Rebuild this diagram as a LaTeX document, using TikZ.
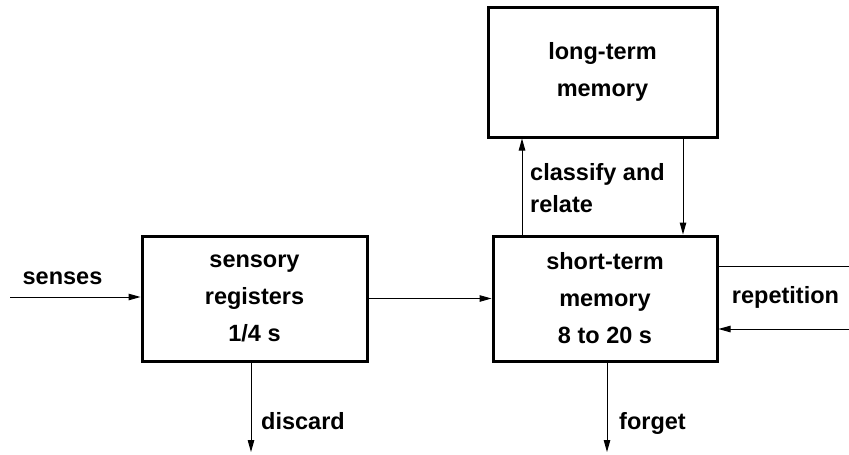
\documentclass[tikz,border=0pt]{standalone}
\usepackage{fontspec}
\setmainfont{Liberation Sans}
\usetikzlibrary{arrows.meta}
\begin{document}
\begin{tikzpicture}[x=1pt,y=-1pt,
  box/.style={draw, line width=3pt, rectangle, inner sep=0pt, align=center,
    font=\fontsize{23.5}{37}\selectfont\bfseries},
  lbl/.style={inner sep=0pt, font=\fontsize{23.5}{32}\selectfont\bfseries},
  arr/.style={-{Triangle[length=12pt,width=6.5pt]}, line width=1pt},
  ln/.style={line width=1pt}]
\useasboundingbox (0,0) rectangle (849,455);
\node[box, minimum width=225pt, minimum height=125pt] (sens) at (254.5,298.5) {sensory\\registers\\1/4 s};
\node[box, minimum width=224pt, minimum height=125pt] (stm) at (605,298.5) {short-term\\memory\\8 to 20 s};
\node[box, minimum width=229pt, minimum height=130pt] (ltm) at (602.5,72) {long-term\\memory};
\coordinate (s0) at (10,297);
\coordinate (d1) at (251,452);
\coordinate (f1) at (607,452);
\coordinate (cu) at (522,0);
\coordinate (cd) at (683,0);
\coordinate (r1) at (849,266);
\coordinate (r2) at (849,329);
\draw[arr] (s0) -- (sens.west |- s0);
\draw[arr] (sens.east) -- (stm.west);
\draw[arr] (sens.south -| d1) -- (d1);
\draw[arr] (stm.south -| f1) -- (f1);
\draw[arr] (stm.north -| cu) -- (ltm.south -| cu);
\draw[arr] (ltm.south -| cd) -- (stm.north -| cd);
\draw[ln] (stm.east |- r1) -- (r1);
\draw[arr] (r2) -- (stm.east |- r2);
\node[lbl, anchor=base] (lsen) at (62.5,284) {senses};
\node[lbl, anchor=base] (lrep) at (785.5,303) {repetition};
\node[lbl, anchor=base west] (ldis) at (261,429) {discard};
\node[lbl, anchor=base west] (lfor) at (619,429) {forget};
\node[lbl, anchor=west, align=left] (lcla) at (530,188) {classify and\\relate};
\end{tikzpicture}
\end{document}
